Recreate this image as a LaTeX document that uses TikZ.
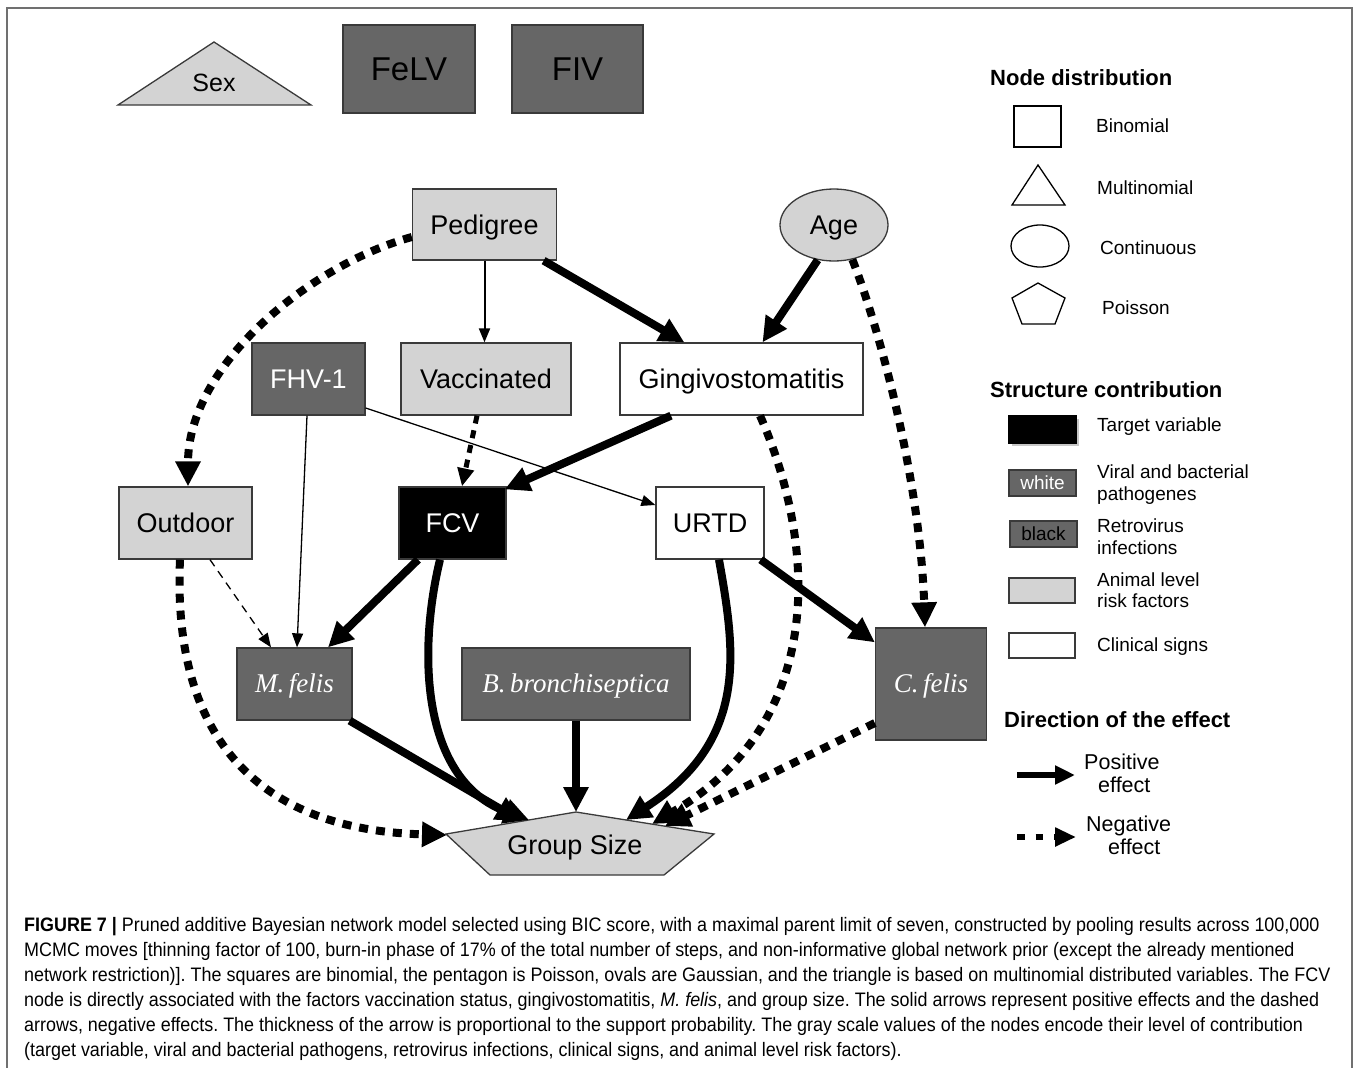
\documentclass[tikz,border=0pt]{standalone}
\usepackage{fontspec}
\setmainfont{Liberation Sans}
\newfontfamily\serifit{Liberation Serif}
\newfontfamily\capfont[FakeStretch=0.92]{Liberation Sans}
\usetikzlibrary{arrows.meta,shapes.geometric}
\definecolor{dg}{HTML}{666666}
\definecolor{lg}{HTML}{D3D3D3}
\definecolor{bd}{HTML}{3A3A3A}
\definecolor{fr}{HTML}{707070}
\frenchspacing
\begin{document}
\begin{tikzpicture}[x=1pt,y=-1pt,
  nbox/.style={draw=bd, line width=1.3pt, rectangle, inner sep=0pt, text height=19.4pt, text depth=0pt, font=\fontsize{27}{32}\selectfont},
  itl/.style={font=\serifit\itshape\fontsize{27}{32}\selectfont, text height=17.9pt, text=white},
  posarr/.style={line width=8pt, -{Triangle[length=25pt,width=24pt]}},
  negarr/.style={posarr, dash pattern=on 9pt off 8pt},
  weak/.style={line width=1.3pt, -{Triangle[length=14pt,width=11pt]}},
  weakdash/.style={weak, dash pattern=on 8pt off 6pt},
  medneg/.style={line width=5pt, dash pattern=on 8pt off 7pt, -{Triangle[length=18pt,width=16pt]}},
  legtxt/.style={anchor=west, inner sep=0pt, text height=13.7pt, text depth=0pt, font=\fontsize{19}{22}\selectfont},
  legbig/.style={legtxt, text height=15.5pt, font=\fontsize{21.5}{25}\selectfont},
  leghead/.style={anchor=west, inner sep=0pt, text height=15.8pt, text depth=0pt, font=\bfseries\fontsize{22}{26}\selectfont},
  lbox/.style={draw=bd, line width=1.3pt, rectangle, inner sep=0pt, minimum width=67pt, minimum height=26pt, text height=13.7pt, text depth=0pt, font=\fontsize{19}{22}\selectfont},
  capline/.style={anchor=base west, inner sep=0pt, font=\capfont\fontsize{19.5}{25}\selectfont}
]
\useasboundingbox (0,0) rectangle (1358,1068);
\fill[white] (0,0) rectangle (1358,1068);
\draw[fr, line width=1.3pt] (7,1070) -- (7,8) -- (1352,8) -- (1352,1070);

% ---------- top row ----------
\draw[draw=bd, line width=1.3pt, fill=lg] (118,105) -- (214,42) -- (311,105) -- cycle;
\node[inner sep=0pt, text height=18pt, text depth=0pt, font=\fontsize{25}{30}\selectfont] (sex) at (214,82) {Sex};
\node[nbox, fill=dg, minimum width=132pt, minimum height=88pt, text height=23.6pt, font=\fontsize{33}{38}\selectfont] (felv) at (409,69) {FeLV};
\node[nbox, fill=dg, minimum width=131pt, minimum height=88pt, text height=23.6pt, font=\fontsize{33}{38}\selectfont] (fiv) at (577.5,69) {FIV};

% ---------- network nodes ----------
\node[nbox, fill=lg, minimum width=144pt, minimum height=71pt] (ped) at (484.5,224.5) {Pedigree};
\node[nbox, ellipse, fill=lg, minimum width=108pt, minimum height=72pt] (age) at (834,225) {Age};
\node[nbox, fill=dg, text=white, minimum width=113pt, minimum height=72pt] (fhv) at (308.5,379) {FHV-1};
\node[nbox, fill=lg, minimum width=170pt, minimum height=72pt] (vac) at (486,379) {Vaccinated};
\node[nbox, fill=white, minimum width=243pt, minimum height=72pt] (gin) at (741.5,379) {Gingivostomatitis};
\node[nbox, fill=lg, minimum width=133pt, minimum height=72pt] (out) at (185.5,523) {Outdoor};
\node[nbox, fill=black, text=white, minimum width=107pt, minimum height=72pt] (fcv) at (452.5,523) {FCV};
\node[nbox, fill=white, minimum width=108pt, minimum height=72pt] (urtd) at (710,523) {URTD};
\node[nbox, itl, fill=dg, minimum width=115pt, minimum height=72pt] (mfe) at (294.5,684) {M.\,felis};
\node[nbox, itl, fill=dg, minimum width=228pt, minimum height=72pt] (bbr) at (576,684) {B.\,bronchiseptica};
\node[nbox, itl, fill=dg, minimum width=111pt, minimum height=112pt] (cfe) at (931,684) {C.\,felis};
\draw[draw=bd, line width=1.3pt, fill=lg] (576,812) -- (714,834) -- (664,875) -- (490,875) -- (446,834) -- cycle;
\node[inner sep=0pt, text height=19.4pt, text depth=0pt, font=\fontsize{27}{32}\selectfont] (gs) at (575,845) {Group Size};
\coordinate (gsOut) at (447,835);
\coordinate (gsMf) at (521,821);
\coordinate (gsFcv) at (529,820);
\coordinate (gsBb) at (576,812);
\coordinate (gsUr) at (626,820);
\coordinate (gsGin) at (652,824);
\coordinate (gsCf) at (665,826);

% ---------- edges ----------
\draw[negarr] ([yshift=-12.5pt]ped.west) .. controls (310,265) and (188,365) .. ([xshift=2.5pt]out.north);
\draw[weak, line width=2pt] (ped.south) -- (ped.south |- vac.north);
\draw[posarr] ([xshift=-13.5pt]ped.south east) -- ([xshift=65pt]gin.north west);
\draw[posarr] (age.-115) -- ([xshift=21pt]gin.north);
\draw[negarr] (age.-62) .. controls (880,330) and (920,480) .. ([xshift=-6pt]cfe.north);
\draw[negarr] ([xshift=18.5pt]gin.south) .. controls (815,540) and (830,720) .. (gsGin);
\draw[negarr] ([yshift=-39pt]cfe.west) -- (gsCf);
\draw[medneg] ([xshift=-9pt]vac.south) -- ([xshift=9.5pt]fcv.north);
\draw[posarr] ([xshift=-70.5pt]gin.south) -- ([xshift=-2pt,yshift=-3pt]fcv.north east);
\draw[weak] ([yshift=-29pt]fhv.east) -- ([yshift=18pt]urtd.west);
\draw[weak] ([xshift=-1.5pt]fhv.south) -- ([xshift=2.5pt]mfe.north);
\draw[weakdash] ([xshift=24.5pt]out.south) -- ([xshift=-23.5pt]mfe.north);
\draw[posarr] ([xshift=-34.5pt]fcv.south) -- ([xshift=33.5pt]mfe.north);
\draw[posarr] ([xshift=-12.5pt]fcv.south) .. controls (418,650) and (420,780) .. (gsFcv);
\draw[posarr] ([xshift=-3pt]mfe.south east) -- (gsMf);
\draw[posarr] (bbr.south) -- (gsBb);
\draw[posarr] ([xshift=9pt]urtd.south) .. controls (735,650) and (750,740) .. (gsUr);
\draw[posarr] ([xshift=-4pt]urtd.south east) -- ([yshift=-15pt]cfe.north west);
\draw[negarr] ([xshift=-5.5pt]out.south) .. controls (172,740) and (260,830) .. (gsOut);

% ---------- legend ----------
\node[leghead] (h1) at (990,78) {Node distribution};
\node[draw, line width=1.3pt, rectangle, inner sep=0pt, minimum width=47pt, minimum height=41pt] (lbin) at (1037.5,126.5) {};
\node[legtxt] (tbin) at (1096,126) {Binomial};
\draw[line width=1.3pt] (1038,165) -- (1065,205) -- (1012,205) -- cycle;
\node[legtxt] (tmul) at (1097,188) {Multinomial};
\node[draw, ellipse, line width=1.3pt, inner sep=0pt, minimum width=58pt, minimum height=42pt] (lell) at (1040,246) {};
\node[legtxt] (tcon) at (1100,248) {Continuous};
\draw[line width=1.3pt] (1038,283) -- (1065,298) -- (1055,324) -- (1022,324) -- (1012,298) -- cycle;
\node[legtxt] (tpoi) at (1102,308) {Poisson};

\node[leghead] (h2) at (990,390) {Structure contribution};
\fill[black!22] (1011.5,418.5) rectangle (1079,446);
\node[lbox, fill=black, draw=black, minimum height=27pt] (ltar) at (1042.5,429.5) {};
\node[legtxt] (ttar) at (1097,425) {Target variable};
\node[lbox, fill=dg, text=white] (lwhite) at (1042.5,483) {white};
\node[legtxt] (tvir1) at (1097,472) {Viral and bacterial};
\node[legtxt] (tvir2) at (1097,494) {pathogenes};
\node[lbox, fill=dg] (lblack) at (1043.5,534) {black};
\node[legtxt] (tret1) at (1097,526) {Retrovirus};
\node[legtxt] (tret2) at (1097,548) {infections};
\node[lbox, fill=lg, minimum width=66pt, minimum height=25pt] (lani) at (1042,590.5) {};
\node[legtxt] (tani1) at (1097,580) {Animal level};
\node[legtxt] (tani2) at (1097,601) {risk factors};
\node[lbox, fill=white, minimum width=66pt, minimum height=25pt] (lcli) at (1042,645.5) {};
\node[legtxt] (tcli) at (1097,645) {Clinical signs};

\node[leghead] (h3) at (1004,719.5) {Direction of the effect};
\coordinate (pa1) at (1017,775);
\coordinate (pa2) at (1075,775);
\draw[line width=6.5pt, -{Triangle[length=20pt,width=18pt]}] (pa1) -- (pa2);
\node[legbig] (tpos1) at (1084,762) {Positive};
\node[legbig] (tpos2) at (1098,785) {effect};
\coordinate (na1) at (1017,837);
\coordinate (na2) at (1076,837);
\draw[line width=6.5pt, dash pattern=on 7.5pt off 11pt, -{Triangle[length=21pt,width=18pt]}] (na1) -- (na2);
\node[legbig] (tneg1) at (1086,824) {Negative};
\node[legbig] (tneg2) at (1108,847) {effect};

% ---------- caption ----------
\node[capline] (c1) at (24,931) {\textbf{FIGURE 7 |} Pruned additive Bayesian network model selected using BIC score, with a maximal parent limit of seven, constructed by pooling results across 100,000};
\node[capline] (c2) at (24,956) {MCMC moves [thinning factor of 100, burn-in phase of 17\% of the total number of steps, and non-informative global network prior (except the already mentioned};
\node[capline] (c3) at (24,981) {network restriction)]. The squares are binomial, the pentagon is Poisson, ovals are Gaussian, and the triangle is based on multinomial distributed variables. The FCV};
\node[capline] (c4) at (24,1006) {node is directly associated with the factors vaccination status, gingivostomatitis, \textit{M. felis}, and group size. The solid arrows represent positive effects and the dashed};
\node[capline] (c5) at (24,1031) {arrows, negative effects. The thickness of the arrow is proportional to the support probability. The gray scale values of the nodes encode their level of contribution};
\node[capline] (c6) at (24,1056) {(target variable, viral and bacterial pathogens, retrovirus infections, clinical signs, and animal level risk factors).};
\end{tikzpicture}
\end{document}
